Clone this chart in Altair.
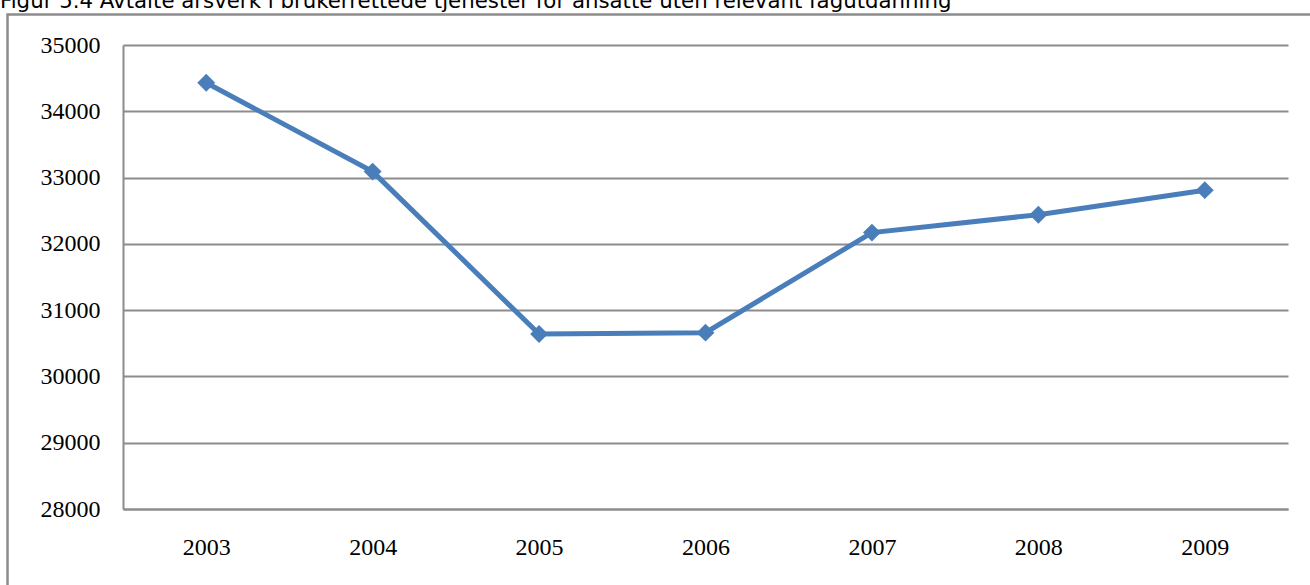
import altair as alt
import pandas as pd

years = ["2003", "2004", "2005", "2006", "2007", "2008", "2009"]
values = [34430, 33090, 30640, 30660, 32170, 32440, 32810]
title_text = "Figur 5.4 Avtalte årsverk i brukerrettede tjenester for ansatte uten relevant fagutdanning"
y_ticks = [28000, 29000, 30000, 31000, 32000, 33000, 34000, 35000]

df = pd.DataFrame({"year": years, "value": values})

W, H = 1165, 464
L, T = 123, 45

x_enc = alt.X("year:O", sort=years,
              scale=alt.Scale(paddingInner=0, paddingOuter=0.5),
              axis=alt.Axis(title=None, labelAngle=0, ticks=False, domain=True,
                            domainColor="#8c8c8c", domainWidth=2,
                            labelFont="Liberation Serif", labelFontSize=24,
                            labelColor="#000000", labelPadding=26))
y_enc = alt.Y("value:Q", scale=alt.Scale(domain=[28000, 35000], nice=False, zero=False),
              axis=alt.Axis(title=None, values=y_ticks, ticks=False, grid=True,
                            gridColor="#8c8c8c", gridWidth=2,
                            domain=True, domainColor="#8c8c8c", domainWidth=2,
                            labelFont="Liberation Serif", labelFontSize=24,
                            labelColor="#000000", labelPadding=23, format="d"))

line = alt.Chart(df).mark_line(color="#4A7EBB", strokeWidth=5).encode(x=x_enc, y=y_enc)
pts = alt.Chart(df).mark_point(shape="diamond", filled=True, size=320, color="#4A7EBB",
                               opacity=1).encode(x="year:O", y="value:Q")

frame_df = pd.DataFrame({"a": [0]})
frame = alt.Chart(frame_df).mark_rect(fill=None, stroke="#8c8c8c", strokeWidth=2.5).encode(
    x=alt.value(7.5 - L), x2=alt.value(1400 - L),
    y=alt.value(14.5 - T), y2=alt.value(700 - T))

title_df = pd.DataFrame({"t": [title_text]})
title = alt.Chart(title_df).mark_text(align="left", baseline="alphabetic", font="DejaVu Sans",
                                      fontSize=21.3, color="#000000").encode(
    text="t:N", x=alt.value(0 - L), y=alt.value(8 - T))

chart = alt.layer(frame, line, pts, title).properties(
    width=W, height=H,
    padding={"left": L, "top": T, "right": 1310 - L - W, "bottom": 585 - T - H},
    autosize=alt.AutoSizeParams(type="none"),
    background="#ffffff",
).configure_view(stroke=None)

chart.save("out.html", embed_options={"renderer": "svg", "actions": False})
